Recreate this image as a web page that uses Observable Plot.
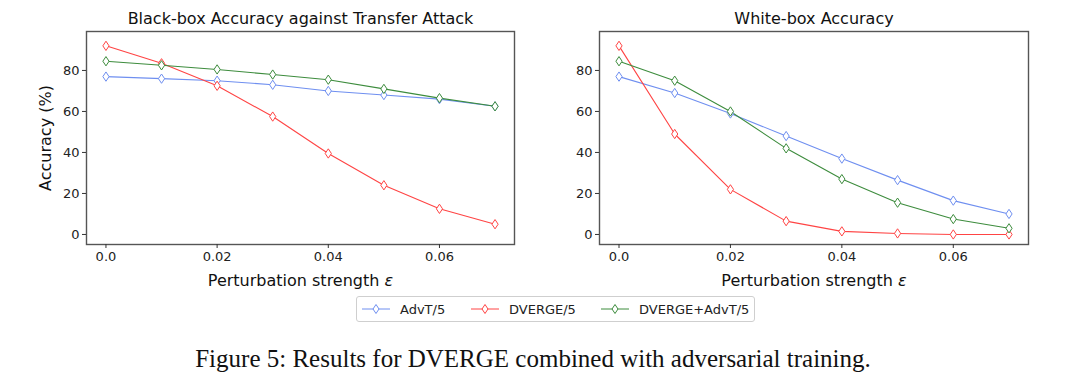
<!DOCTYPE html>
<html>
<head>
<meta charset="utf-8">
<script src="https://cdn.jsdelivr.net/npm/d3@7"></script>
<script src="https://cdn.jsdelivr.net/npm/@observablehq/plot@0.6"></script>
<style>
  html, body { margin: 0; padding: 0; background: #fff; }
  #wrap { position: relative; width: 1080px; height: 377px; overflow: hidden; font-family: "DejaVu Sans", sans-serif; }
  #left, #right { position: absolute; top: 0; }
  #left { left: 0; }
  #right { left: 540px; }
  #legend { position: absolute; left: 356px; top: 296px; width: 397px; height: 24px; border: 1.3px solid #cfcfcf; border-radius: 3px; font-size: 13px; color: #222; box-sizing: content-box; }
  .item { display: flex; align-items: center; position: absolute; top: 0; height: 24px; }
  .item span { margin-left: 10px; }
  #caption { position: absolute; left: -7px; width: 1080px; top: 344px; text-align: center; font-family: "Liberation Serif", "Times New Roman", serif; font-size: 25px; line-height: 30px; color: #111; white-space: nowrap; }
</style>
</head>
<body>
<div id="wrap">
  <div id="left"></div>
  <div id="right"></div>
  <div id="legend"></div>
  <div id="caption">Figure 5: Results for DVERGE combined with adversarial training.</div>
</div>
<script>
// ---- data ----
const epsilons = [0, 0.01, 0.02, 0.03, 0.04, 0.05, 0.06, 0.07];
const seriesNames = ["AdvT/5", "DVERGE/5", "DVERGE+AdvT/5"];
const seriesColors = ["#6f8ff0", "#ff4444", "#3d8c3d"];
const panelTitles = ["Black-box Accuracy against Transfer Attack", "White-box Accuracy"];
const xTicks = [0, 0.02, 0.04, 0.06];
const xTickLabels = ["0.0", "0.02", "0.04", "0.06"];
const yTicks = [0, 20, 40, 60, 80];

const blackAdvT = [77, 76, 75, 73, 70, 68, 66, 62.5];
const blackDverge = [92, 83.5, 72.5, 57.5, 39.5, 24, 12.5, 5];
const blackDvergeAdvT = [84.5, 82.5, 80.5, 78, 75.5, 71, 66.5, 62.5];

const whiteAdvT = [77, 69, 59, 48, 37, 26.5, 16.5, 10];
const whiteDverge = [92, 49, 22, 6.5, 1.5, 0.5, 0, 0];
const whiteDvergeAdvT = [84.5, 75, 60, 42, 27, 15.5, 7.5, 3];

function rows(seriesArrays) {
  const out = [];
  seriesArrays.forEach((arr, i) => arr.forEach((v, j) => out.push({series: seriesNames[i], eps: epsilons[j], acc: v})));
  return out;
}
const blackRows = rows([blackAdvT, blackDverge, blackDvergeAdvT]);
const whiteRows = rows([whiteAdvT, whiteDverge, whiteDvergeAdvT]);

// thin diamond (matplotlib 'd')
const thinDiamond = {
  draw(ctx, size) {
    const r = Math.sqrt(size / Math.PI);
    const h = r * 1.5, w = r;
    ctx.moveTo(0, -h); ctx.lineTo(w, 0); ctx.lineTo(0, h); ctx.lineTo(-w, 0); ctx.closePath();
  }
};

function panel(title, data, opts) {
  const marks = [
    Plot.frame({stroke: "#555", strokeWidth: 1.4}),
    Plot.axisX({ticks: xTicks, tickFormat: d => xTickLabels[xTicks.indexOf(d)], tickSize: 4, tickPadding: 3, label: null, stroke: "#333"}),
    Plot.axisY({ticks: yTicks, tickSize: 4, tickPadding: 3, label: null, stroke: "#333"}),
    Plot.line(data, {x: "eps", y: "acc", z: "series", stroke: "series", strokeWidth: 1.1}),
    Plot.dot(data, {x: "eps", y: "acc", stroke: "series", fill: "white", symbol: thinDiamond, r: 3.1, strokeWidth: 1}),
    Plot.text([title], {frameAnchor: "top", dy: -13, lineAnchor: "middle", fontSize: 16, fill: "#111"}),
    Plot.text(["Perturbation strength ε"], {frameAnchor: "bottom", dy: 36, lineAnchor: "middle", fontSize: 16, fill: "#111"})
  ];
  if (opts.ylabel) {
    marks.push(Plot.text([opts.ylabel], {frameAnchor: "left", dx: -41, rotate: -90, textAnchor: "middle", lineAnchor: "middle", fontSize: 16, fill: "#111"}));
  }
  const p = Plot.plot({
    width: 540, height: 290,
    marginLeft: opts.marginLeft, marginRight: opts.marginRight, marginTop: 31, marginBottom: 46,
    x: {domain: [-0.0035, 0.0735]},
    y: {domain: [-4.9, 99]},
    color: {domain: seriesNames, range: seriesColors},
    style: {fontFamily: "DejaVu Sans", fontSize: "13px", color: "#222", background: "transparent", overflow: "visible"},
    marks
  });
  // italic epsilon
  p.querySelectorAll("text").forEach(t => {
    if (t.textContent === "Perturbation strength ε") {
      t.textContent = "Perturbation strength ";
      const ts = document.createElementNS("http://www.w3.org/2000/svg", "tspan");
      ts.setAttribute("font-style", "italic");
      ts.textContent = "ε";
      t.appendChild(ts);
    }
  });
  return p;
}

document.getElementById("left").appendChild(panel(panelTitles[0], blackRows, {marginLeft: 86, marginRight: 26, ylabel: "Accuracy (%)"}));
document.getElementById("right").appendChild(panel(panelTitles[1], whiteRows, {marginLeft: 59, marginRight: 52}));

// legend
const legend = document.getElementById("legend");
const itemLefts = [5, 114, 244];
seriesNames.forEach((name, i) => {
  const div = document.createElement("div");
  div.className = "item";
  div.style.left = itemLefts[i] + "px";
  const c = seriesColors[i];
  div.innerHTML = `<svg width="28" height="14"><line x1="0" y1="7" x2="28" y2="7" stroke="${c}" stroke-width="1"/><path d="M14,2.5 L17,7 L14,11.5 L11,7 Z" fill="white" stroke="${c}" stroke-width="1"/></svg><span>${name}</span>`;
  legend.appendChild(div);
});
</script>
</body>
</html>
